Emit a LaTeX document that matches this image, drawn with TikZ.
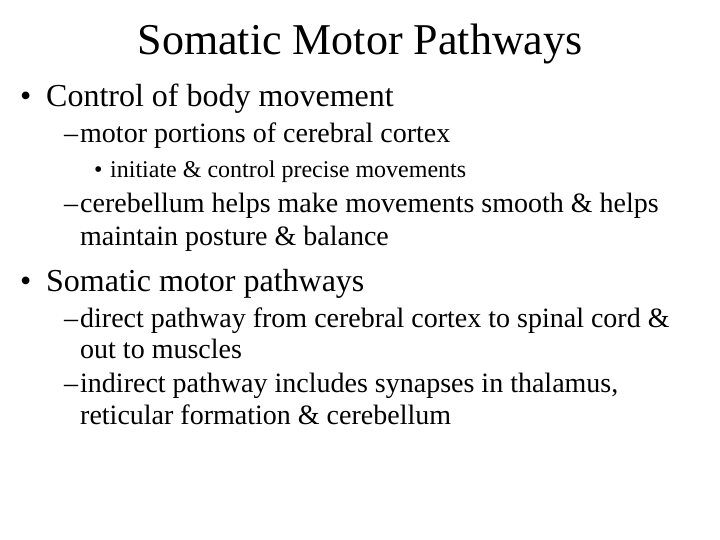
\documentclass[tikz,border=0pt]{standalone}
\usepackage{fontspec}
\setmainfont{Liberation Serif}
\begin{document}
\begin{tikzpicture}[x=1pt,y=-1pt,
  every node/.style={inner sep=0pt,anchor=base west},
  ttl/.style={font=\fontsize{44}{52}\selectfont,anchor=base},
  lone/.style={font=\fontsize{32}{38}\selectfont},
  ltwo/.style={font=\fontsize{28}{33}\selectfont},
  lthree/.style={font=\fontsize{24}{28}\selectfont}]
\useasboundingbox (0,0) rectangle (720,540);
\node[ttl] (t) at (360,55) {Somatic Motor Pathways};
\node[lone] (b1) at (20,107) {•};
\node[lone] (t1) at (46,107) {Control of body movement};
\node[ltwo] (d1) at (64,143) {–};
\node[ltwo] (t2) at (80,143) {motor portions of cerebral cortex};
\node[lthree] (b2) at (94,178) {•};
\node[lthree] (t3) at (110,178) {initiate \& control precise movements};
\node[ltwo] (d2) at (64,213) {–};
\node[ltwo] (t4) at (80,213) {cerebellum helps make movements smooth \& helps};
\node[ltwo] (t5) at (80,245) {maintain posture \& balance};
\node[lone] (b3) at (20,291) {•};
\node[lone] (t6) at (46,291) {Somatic motor pathways};
\node[ltwo] (d3) at (64,327) {–};
\node[ltwo] (t7) at (80,327) {direct pathway from cerebral cortex to spinal cord \&};
\node[ltwo] (t8) at (80,358) {out to muscles};
\node[ltwo] (d4) at (64,392) {–};
\node[ltwo] (t9) at (80,392) {indirect pathway includes synapses in thalamus,};
\node[ltwo] (t10) at (80,424) {reticular formation \& cerebellum};
\end{tikzpicture}
\end{document}
